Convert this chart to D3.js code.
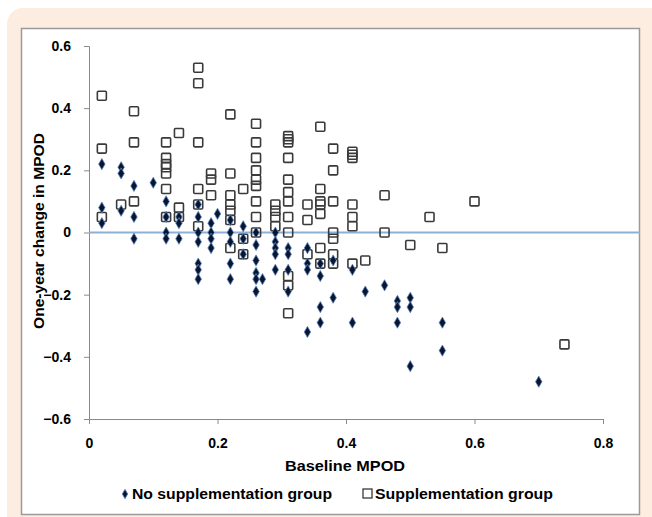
<!DOCTYPE html>
<html>
<head>
<meta charset="utf-8">
<script src="https://cdn.jsdelivr.net/npm/d3@7"></script>
<style>
  body { margin: 0; background: #fff; }
  text { font-family: "Liberation Sans", Arial, sans-serif; font-weight: bold; fill: #000; }
</style>
</head>
<body>
<div id="chart"></div>
<script>
// baseline MPOD (x) and one-year change (y) for each group
const noSuppX = [0.02,0.02,0.02, 0.05,0.05,0.05, 0.07,0.07,0.07, 0.10,
  0.12,0.12,0.12,0.12, 0.14,0.14,0.14, 0.17,0.17,0.17,0.17,0.17,0.17,0.17,
  0.19,0.19,0.19,0.19, 0.20, 0.22,0.22,0.22,0.22,0.22, 0.24,0.24,0.24,
  0.26,0.26,0.26,0.26,0.26,0.26, 0.27, 0.29,0.29,0.29,0.29,0.29,
  0.31,0.31,0.31,0.31, 0.34,0.34,0.34,0.34, 0.36,0.36,0.36,0.36,
  0.38,0.38, 0.41,0.41, 0.43, 0.46, 0.48,0.48,0.48, 0.50,0.50,0.50,
  0.55,0.55, 0.70];
const noSuppY = [0.22,0.08,0.03, 0.21,0.19,0.07, 0.15,0.05,-0.02, 0.16,
  0.10,0.05,0.00,-0.02, 0.05,0.03,-0.02, 0.09,0.05,0.00,-0.03,-0.10,-0.12,-0.15,
  0.03,0.00,-0.02,-0.05, 0.06, 0.04,0.00,-0.03,-0.10,-0.15, 0.02,-0.02,-0.07,
  0.00,-0.04,-0.09,-0.13,-0.15,-0.19, -0.15, 0.00,-0.03,-0.05,-0.07,-0.12,
  -0.05,-0.07,-0.12,-0.19, -0.05,-0.10,-0.12,-0.32, -0.10,-0.14,-0.24,-0.29,
  -0.09,-0.21, -0.12,-0.29, -0.19, -0.17, -0.22,-0.24,-0.29, -0.21,-0.24,-0.43,
  -0.29,-0.38, -0.48];

const suppX = [0.02,0.02,0.02, 0.05, 0.07,0.07,0.07,
  0.12,0.12,0.12,0.12,0.12,0.12,0.12, 0.14,0.14,0.14,
  0.17,0.17,0.17,0.17,0.17,0.17, 0.19,0.19,0.19,
  0.22,0.22,0.22,0.22,0.22,0.22,0.22, 0.24,0.24,0.24,
  0.26,0.26,0.26,0.26,0.26,0.26,0.26,0.26,0.26, 0.29,0.29,0.29,0.29,
  0.31,0.31,0.31,0.31,0.31,0.31,0.31,0.31,0.31,0.31,0.31,0.31,
  0.34,0.34,0.34, 0.36,0.36,0.36,0.36,0.36,0.36,0.36,
  0.38,0.38,0.38,0.38,0.38,0.38,0.38, 0.41,0.41,0.41,0.41,0.41,0.41,0.41,
  0.43, 0.46,0.46, 0.50, 0.53, 0.55, 0.60, 0.74];
const suppY = [0.44,0.27,0.05, 0.09, 0.39,0.29,0.10,
  0.29,0.24,0.22,0.21,0.19,0.14,0.05, 0.32,0.08,0.05,
  0.53,0.48,0.29,0.14,0.09,0.02, 0.19,0.17,0.12,
  0.38,0.19,0.12,0.09,0.07,0.04,-0.05, 0.14,-0.02,-0.07,
  0.35,0.29,0.24,0.20,0.17,0.15,0.10,0.05,0.00, 0.09,0.07,0.05,0.02,
  0.31,0.30,0.29,0.24,0.17,0.13,0.10,0.05,0.00,-0.14,-0.17,-0.26,
  0.09,0.04,-0.07, 0.34,0.14,0.10,0.09,0.06,-0.05,-0.10,
  0.27,0.20,0.10,0.00,-0.02,-0.07,-0.10, 0.26,0.25,0.24,0.09,0.05,0.02,-0.10,
  -0.09, 0.12,0.00, -0.04, 0.05, -0.05, 0.10, -0.36];

const xTicks = [0, 0.2, 0.4, 0.6, 0.8];
const yTicks = [-0.6, -0.4, -0.2, 0, 0.2, 0.4, 0.6];
const seriesNames = ["No supplementation group", "Supplementation group"];

const width = 652, height = 517;

const svg = d3.select("#chart").append("svg")
    .attr("width", width)
    .attr("height", height);

// peach panel and white chart box
svg.append("rect")
    .attr("x", 7).attr("y", 8)
    .attr("width", width + 20).attr("height", height + 20)
    .attr("rx", 16)
    .attr("fill", "#fdede0");
svg.append("rect")
    .attr("x", 21.5).attr("y", 28.5)
    .attr("width", 618).attr("height", 486)
    .attr("fill", "#fff")
    .attr("stroke", "#9a9a9a")
    .attr("stroke-width", 1.5);

const x = d3.scaleLinear().domain([0, 0.8]).range([89, 603]);
const y = d3.scaleLinear().domain([-0.6, 0.6]).range([419, 46]);

const fmt = d => d === 0 ? "0" : d3.format(".1f")(d);

// y axis
const yAxis = svg.append("g")
    .attr("transform", `translate(${x(0)},0)`)
    .call(d3.axisLeft(y).tickValues(yTicks).tickSize(5).tickPadding(13).tickFormat(fmt));
// x axis at the bottom
const xAxis = svg.append("g")
    .attr("transform", `translate(0,${y(-0.6)})`)
    .call(d3.axisBottom(x).tickValues(xTicks).tickSize(5).tickPadding(14).tickFormat(fmt));

[yAxis, xAxis].forEach(a => {
    a.select(".domain").attr("stroke", "#8a8a8a");
    a.selectAll(".tick line").attr("stroke", "#8a8a8a");
    a.selectAll(".tick text")
        .style("font-size", "14px")
        .style("font-family", "'Liberation Sans', Arial, sans-serif")
        .style("font-weight", "bold")
        .attr("fill", "#000");
});

// zero reference line
svg.append("line")
    .attr("x1", x(0)).attr("x2", 640)
    .attr("y1", y(0)).attr("y2", y(0))
    .attr("stroke", "#8db0d9")
    .attr("stroke-width", 2);

const diamond = d3.symbol().type(d3.symbolDiamond).size(36);

// squares (supplementation)
svg.append("g").selectAll("rect")
    .data(d3.range(suppX.length))
    .join("rect")
    .attr("x", i => x(suppX[i]) - 4.5)
    .attr("y", i => y(suppY[i]) - 4.5)
    .attr("width", 9).attr("height", 9)
    .attr("rx", 1)
    .attr("fill", "none")
    .attr("stroke", "#3a3a3a")
    .attr("stroke-width", 1.6);

// diamonds (no supplementation)
svg.append("g").selectAll("path")
    .data(d3.range(noSuppX.length))
    .join("path")
    .attr("d", diamond)
    .attr("transform", i => `translate(${x(noSuppX[i])},${y(noSuppY[i])})`)
    .attr("fill", "#0a1530")
    .attr("stroke", "#5b86c0")
    .attr("stroke-width", 0.8);

// axis titles
svg.append("text")
    .attr("x", 345).attr("y", 471)
    .attr("text-anchor", "middle")
    .style("font-size", "14px")
    .attr("textLength", 120).attr("lengthAdjust", "spacingAndGlyphs")
    .text("Baseline MPOD");
svg.append("text")
    .attr("transform", "translate(44,231) rotate(-90)")
    .attr("text-anchor", "middle")
    .style("font-size", "14px")
    .attr("textLength", 196).attr("lengthAdjust", "spacingAndGlyphs")
    .text("One-year change in MPOD");

// legend
const leg = svg.append("g").attr("transform", "translate(0,494)");
leg.append("path")
    .attr("d", d3.symbol().type(d3.symbolDiamond).size(26))
    .attr("transform", "translate(125,0)")
    .attr("fill", "#0a1530")
    .attr("stroke", "#5b86c0")
    .attr("stroke-width", 0.8);
leg.append("text")
    .attr("x", 132).attr("y", 5)
    .style("font-size", "14px")
    .attr("textLength", 200).attr("lengthAdjust", "spacingAndGlyphs")
    .text(seriesNames[0]);
leg.append("rect")
    .attr("x", 363).attr("y", -5)
    .attr("width", 9).attr("height", 9)
    .attr("fill", "none")
    .attr("stroke", "#3a3a3a")
    .attr("stroke-width", 1.3);
leg.append("text")
    .attr("x", 375).attr("y", 5)
    .style("font-size", "14px")
    .attr("textLength", 178).attr("lengthAdjust", "spacingAndGlyphs")
    .text(seriesNames[1]);
</script>
</body>
</html>
